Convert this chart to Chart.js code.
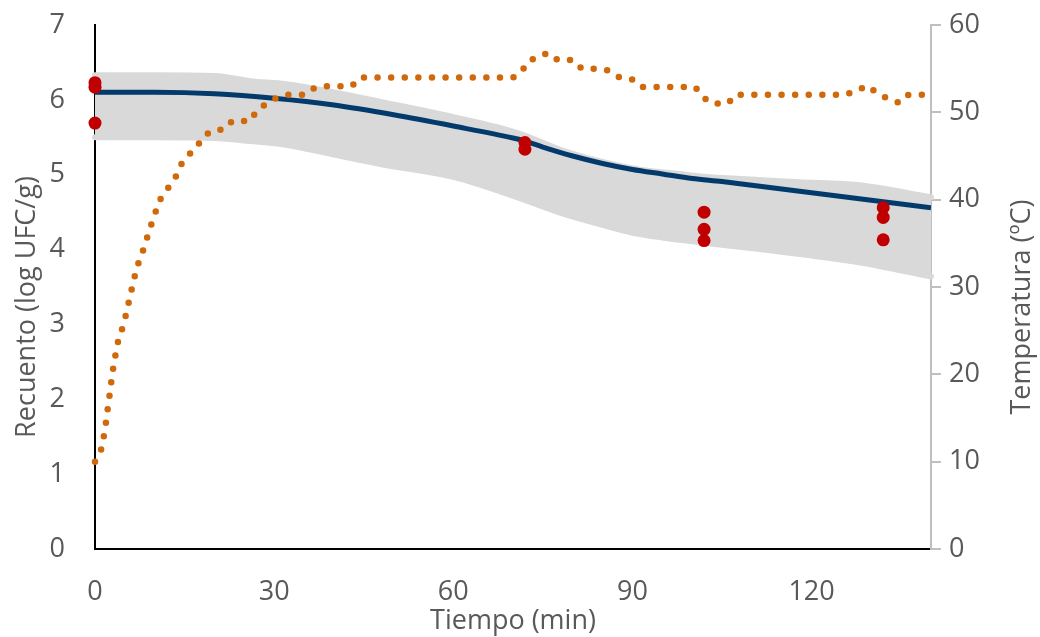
<!DOCTYPE html>
<html>
<head>
<meta charset="utf-8">
<script src="https://cdn.jsdelivr.net/npm/chart.js@4.4.1/dist/chart.umd.min.js"></script>
<style>
  html, body { margin: 0; padding: 0; background: #ffffff; }
  #wrap { width: 1040px; height: 637px; position: relative; }
</style>
</head>
<body>
<div id="wrap"><canvas id="c" width="1040" height="637"></canvas></div>
<script>
// ---- Data ----
const xTickValues = [0, 30, 60, 90, 120];
const leftTickValues = [0, 1, 2, 3, 4, 5, 6, 7];
const rightTickValues = [0, 10, 20, 30, 40, 50, 60];

// Observed counts (log UFC/g)
const obsTime  = [0, 0, 0, 72, 72, 102, 102, 102, 132, 132, 132];
const obsCount = [6.23, 6.17, 5.69, 5.43, 5.34, 4.50, 4.27, 4.12, 4.56, 4.43, 4.13];

// Model prediction (log UFC/g)
const modelTime  = [0, 10, 20, 30, 40, 50, 60, 70, 72, 75, 80, 85, 90, 95, 100, 105, 110, 120, 130, 140];
const modelCount = [6.10, 6.10, 6.08, 6.02, 5.93, 5.80, 5.65, 5.49, 5.45, 5.37, 5.25, 5.15, 5.07, 5.01, 4.95, 4.91, 4.86, 4.76, 4.66, 4.56];

// Prediction band (upper / lower)
const bandTime  = [0, 10, 20, 26, 32, 40, 48, 60, 71, 78, 85, 91, 98, 101, 111, 118, 128, 140];
const bandUpper = [6.33, 6.33, 6.32, 6.25, 6.21, 6.10, 5.97, 5.77, 5.55, 5.33, 5.17, 5.07, 5.01, 4.98, 4.93, 4.90, 4.86, 4.70];
const bandLower = [5.50, 5.50, 5.49, 5.45, 5.40, 5.27, 5.14, 4.97, 4.69, 4.49, 4.33, 4.21, 4.13, 4.10, 4.01, 3.94, 3.83, 3.64];

// Temperature (ºC)
const tempTime  = [0, 1.0, 1.45, 1.8, 2.1, 2.4, 2.7, 3.0, 3.4, 3.8, 4.5, 5.1, 5.6, 6.1, 6.6, 7.2, 8.0, 8.7, 9.4, 10.1, 10.9, 12.2, 13.5, 14.4, 15.5, 17.0, 18.2, 20, 21.5, 23, 26, 27.2, 28.8, 30.5, 32, 35, 36.5, 38, 43, 44.4, 70, 71.3, 72.5, 74.2, 75.9, 77.5, 80, 81.5, 84, 85.9, 87.8, 89.9, 91.5, 100.5, 101.9, 103.4, 106, 107.2, 125.5, 127.4, 129.3, 131.2, 133, 134.7, 136.2, 140];
const tempValue = [10.0, 11.3, 12.8, 14.3, 15.9, 17.4, 19.0, 20.5, 22.1, 23.6, 25.1, 26.6, 28.1, 29.6, 31.1, 32.6, 34.1, 35.6, 37.1, 38.5, 40.0, 41.3, 42.6, 44.0, 45.0, 46.0, 47.3, 48.0, 48.0, 49.0, 49.0, 50.3, 51.0, 51.7, 52.0, 52.0, 52.7, 53.0, 53.0, 54.0, 54.0, 54.5, 55.8, 56.4, 56.8, 56.0, 56.0, 55.0, 55.0, 54.8, 54.0, 53.8, 52.9, 52.9, 51.7, 51.0, 51.0, 52.0, 52.0, 52.4, 53.05, 52.1, 51.5, 51.1, 52.0, 52.0];

const xTitle = 'Tiempo (min)';
const yLeftTitle = 'Recuento (log UFC/g)';
const yRightTitle = 'Temperatura (ºC)';

// ---- Build ----
const pts = (xs, ys) => xs.map((x, i) => ({ x: x, y: ys[i] }));
const FONT = "'Open Sans', 'Noto Sans', sans-serif";
const TXT = '#595959';
const GREY = '#D9D9D9';
const FS = 27;

function fixBox(size, key) {
  return (s) => {
    s[key] = size;
    s.paddingTop = 0; s.paddingBottom = 0; s.paddingLeft = 0; s.paddingRight = 0;
  };
}

// Axis titles drawn as text, positioned like the original (both y titles read bottom-to-top)
const axisTitles = {
  id: 'axisTitles',
  afterDraw(chart) {
    const ctx = chart.ctx;
    const a = chart.chartArea;
    ctx.save();
    ctx.fillStyle = TXT;
    ctx.font = FS + 'px ' + FONT;
    ctx.textAlign = 'center';
    ctx.textBaseline = 'middle';
    ctx.fillText(xTitle, (a.left + a.right) / 2, 621);
    const cy = (a.top + a.bottom) / 2 + 20;
    ctx.save();
    ctx.translate(27, cy);
    ctx.rotate(-Math.PI / 2);
    ctx.fillText(yLeftTitle, 0, 0);
    ctx.restore();
    ctx.save();
    ctx.translate(1022, cy);
    ctx.rotate(-Math.PI / 2);
    ctx.fillText(yRightTitle, 0, 0);
    ctx.restore();
    ctx.restore();
  }
};

new Chart(document.getElementById('c'), {
  type: 'line',
  plugins: [axisTitles],
  data: {
    datasets: [
      {
        label: 'Temperatura',
        data: pts(tempTime, tempValue),
        yAxisID: 'y2',
        borderColor: '#D0690B',
        borderWidth: 6.5,
        borderDash: [0, 13.6],
        borderCapStyle: 'round',
        borderJoinStyle: 'round',
        pointRadius: 0,
        tension: 0,
        fill: false,
        order: 0,
        clip: 10
      },
      {
        label: 'Observado',
        data: pts(obsTime, obsCount),
        yAxisID: 'y',
        showLine: false,
        pointRadius: 6.5,
        pointBackgroundColor: '#C00000',
        pointBorderWidth: 0,
        borderColor: '#C00000',
        order: 1,
        clip: 10
      },
      {
        label: 'Modelo',
        data: pts(modelTime, modelCount),
        yAxisID: 'y',
        borderColor: '#033A6C',
        borderWidth: 5,
        pointRadius: 0,
        cubicInterpolationMode: 'monotone',
        fill: false,
        order: 2
      },
      {
        label: 'Superior',
        data: pts(bandTime, bandUpper),
        yAxisID: 'y',
        borderColor: GREY,
        borderWidth: 6,
        borderCapStyle: 'round',
        backgroundColor: GREY,
        pointRadius: 0,
        cubicInterpolationMode: 'monotone',
        fill: '+1',
        order: 3,
        clip: 8
      },
      {
        label: 'Inferior',
        data: pts(bandTime, bandLower),
        yAxisID: 'y',
        borderColor: GREY,
        borderWidth: 6,
        borderCapStyle: 'round',
        pointRadius: 0,
        cubicInterpolationMode: 'monotone',
        fill: false,
        order: 4,
        clip: 8
      }
    ]
  },
  options: {
    responsive: false,
    animation: false,
    layout: { padding: { top: 25, right: 0, bottom: 0, left: 0 } },
    plugins: { legend: { display: false }, tooltip: { enabled: false } },
    scales: {
      x: {
        type: 'linear',
        min: 0, max: 140,
        afterBuildTicks: (s) => { s.ticks = xTickValues.map(v => ({ value: v })); },
        afterFit: fixBox(88, 'height'),
        grid: { display: false, drawTicks: false },
        border: { display: true, color: '#000000', width: 2 },
        ticks: { color: TXT, font: { family: FONT, size: FS }, padding: 27, maxRotation: 0 },
        title: { display: false }
      },
      y: {
        type: 'linear',
        position: 'left',
        min: 0, max: 7,
        afterBuildTicks: (s) => { s.ticks = leftTickValues.map(v => ({ value: v })); },
        afterFit: fixBox(95, 'width'),
        grid: { display: false, drawTicks: false },
        border: { display: true, color: '#000000', width: 2 },
        ticks: { color: TXT, font: { family: FONT, size: FS }, padding: 30 },
        title: { display: false }
      },
      y2: {
        type: 'linear',
        position: 'right',
        min: 0, max: 60,
        afterBuildTicks: (s) => { s.ticks = rightTickValues.map(v => ({ value: v })); },
        afterFit: fixBox(109, 'width'),
        grid: { display: true, drawOnChartArea: false, drawTicks: true, tickLength: 10, color: '#BFBFBF', lineWidth: 2 },
        border: { display: true, color: '#BFBFBF', width: 2 },
        ticks: { color: TXT, font: { family: FONT, size: FS }, padding: 8 },
        title: { display: false }
      }
    }
  }
});
</script>
</body>
</html>
